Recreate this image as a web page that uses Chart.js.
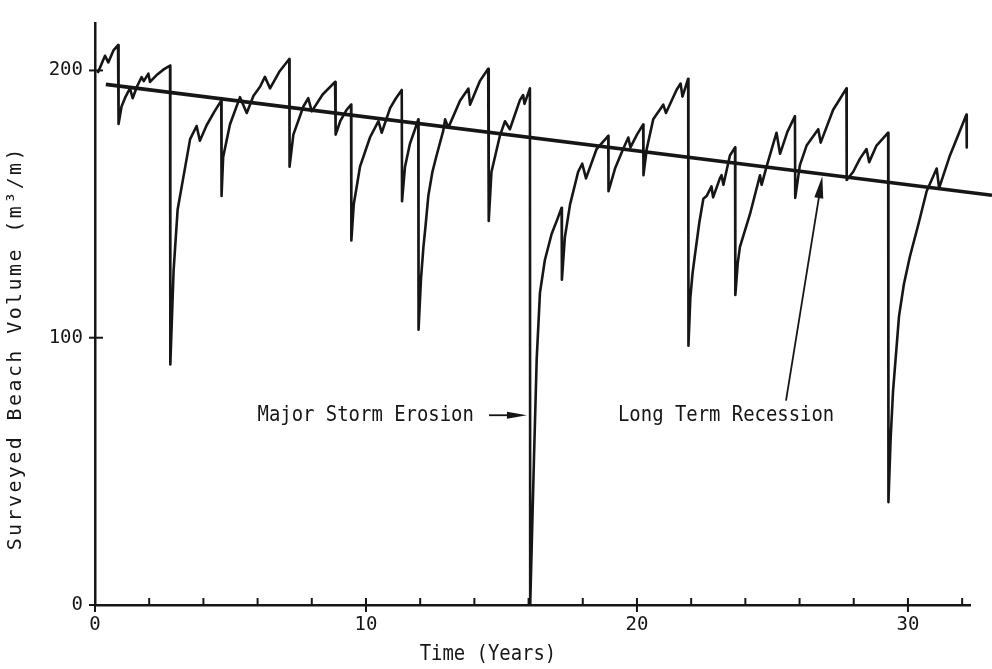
<!DOCTYPE html>
<html>
<head>
<meta charset="utf-8">
<script src="https://cdn.jsdelivr.net/npm/chart.js@4.4.1/dist/chart.umd.min.js"></script>
<style>
  html, body { margin: 0; padding: 0; background: #fff; }
</style>
</head>
<body>
<canvas id="beachChart" width="992" height="669"></canvas>
<script>
// surveyed beach volume (m3/m) against time (years); each storm is a near-vertical drop
const years = [
  0.10, 0.37, 0.49, 0.68, 0.85,
  0.87, 0.98, 1.12, 1.29, 1.39, 1.55, 1.72, 1.80, 1.97, 2.03, 2.30, 2.55, 2.77,
  2.78, 2.90, 3.05, 3.26, 3.51, 3.75, 3.87, 4.12, 4.40, 4.66,
  4.67, 4.73, 4.98, 5.35, 5.60, 5.85, 6.09, 6.27, 6.46, 6.80, 7.17,
  7.18, 7.32, 7.69, 7.87, 8.00, 8.40, 8.86,
  8.88, 9.05, 9.29, 9.45,
  9.46, 9.55, 9.65, 9.78, 10.15, 10.46, 10.58, 10.89, 11.10, 11.32,
  11.33, 11.44, 11.62, 11.81, 11.93,
  11.94, 12.03, 12.12, 12.20, 12.30, 12.45, 12.60, 12.85, 12.92, 13.04, 13.47, 13.78, 13.84, 14.20, 14.51,
  14.53, 14.63, 14.94, 15.13, 15.31, 15.68, 15.80, 15.85, 16.05,
  16.06, 16.20, 16.30, 16.42, 16.60, 16.85, 17.05, 17.22,
  17.23, 17.34, 17.53, 17.83, 17.98, 18.12, 18.51, 18.94,
  18.95, 19.19, 19.49, 19.68, 19.76, 20.00, 20.23,
  20.24, 20.36, 20.60, 20.97, 21.07, 21.46, 21.61, 21.68, 21.89,
  21.90, 21.97, 22.05, 22.14, 22.30, 22.45, 22.57, 22.75, 22.81, 23.06, 23.12, 23.19, 23.43, 23.62,
  23.63, 23.72, 23.80, 24.17, 24.54, 24.60, 24.78, 25.15, 25.28, 25.55, 25.83,
  25.84, 26.01, 26.26, 26.69, 26.78, 27.24, 27.50, 27.73,
  27.74, 27.98, 28.23, 28.47, 28.57, 28.84, 29.27,
  29.28, 29.36, 29.45, 29.67, 29.85, 30.07, 30.40, 30.69, 31.06, 31.15, 31.55, 31.90, 32.16,
  32.17
];
const volume = [
  199.0, 205.5, 203.0, 207.5, 209.5,
  180.0, 186.5, 190.0, 193.3, 189.6, 194.0, 197.5, 196.0, 198.8, 195.7, 198.5, 200.5, 201.8,
  90.0, 125.0, 148.0, 160.0, 174.3, 179.2, 173.7, 179.5, 184.5, 188.7,
  153.0, 167.6, 179.8, 190.0, 184.1, 190.5, 193.9, 197.6, 193.3, 199.5, 204.3,
  164.0, 176.0, 186.5, 189.6, 184.7, 191.0, 195.7,
  176.0, 181.0, 185.3, 187.2,
  136.4, 150.0, 156.0, 164.0, 175.0, 181.0, 176.7, 185.9, 189.5, 192.7,
  151.1, 164.0, 172.5, 178.0, 181.7,
  103.0, 122.0, 134.0, 142.0, 153.0, 162.0, 168.0, 177.4, 181.7, 178.6, 188.7, 193.2, 187.2, 196.0, 200.6,
  143.7, 162.0, 175.5, 181.0, 178.0, 188.9, 190.8, 187.5, 193.3,
  0.0, 55.0, 92.0, 116.8, 129.0, 138.8, 144.0, 148.6,
  121.7, 137.6, 149.8, 162.1, 165.1, 159.6, 170.6, 175.5,
  154.8, 163.3, 170.6, 174.9, 171.2, 176.0, 179.8,
  160.8, 170.6, 181.7, 187.2, 184.1, 192.7, 195.1, 190.2, 196.9,
  97.0, 115.0, 124.0, 131.0, 143.0, 152.0, 153.0, 156.6, 152.5, 159.6, 160.8, 157.2, 168.2, 171.2,
  116.0, 128.0, 134.0, 146.2, 160.8, 157.2, 163.9, 176.7, 168.8, 177.0, 182.9,
  152.3, 164.5, 171.9, 178.0, 173.0, 185.3, 189.5, 193.3,
  159.0, 162.1, 167.0, 170.6, 165.7, 171.9, 176.7,
  38.5, 62.0, 80.0, 108.0, 120.0, 130.3, 143.0, 154.8, 163.3, 156.0, 168.2, 177.0, 183.5,
  171.2
];

// long term recession line
const trendYears = [0.4, 33.1];
const trendVolume = [194.8, 153.3];

// axes
const xLabelEvery = 10;
const xTickStep = 2;
const yTickStep = 100;
const xMax = 32.29;
const yMax = 217.6;

const ink = '#161616';
const mono = '"DejaVu Sans Mono", monospace';

const points = years.map((x, i) => ({ x: x, y: volume[i] }));
const trendPoints = trendYears.map((x, i) => ({ x: x, y: trendVolume[i] }));

function drawArrow(ctx, x0, y0, x1, y1, len, half) {
  const a = Math.atan2(y1 - y0, x1 - x0);
  ctx.beginPath();
  ctx.moveTo(x0, y0);
  ctx.lineTo(x1 - Math.cos(a) * len * 0.6, y1 - Math.sin(a) * len * 0.6);
  ctx.stroke();
  ctx.beginPath();
  ctx.moveTo(x1, y1);
  ctx.lineTo(x1 - Math.cos(a) * len + Math.sin(a) * half, y1 - Math.sin(a) * len - Math.cos(a) * half);
  ctx.lineTo(x1 - Math.cos(a) * len - Math.sin(a) * half, y1 - Math.sin(a) * len + Math.cos(a) * half);
  ctx.closePath();
  ctx.fill();
}

function narrowText(ctx, text, x, y, align) {
  ctx.save();
  ctx.translate(x, y);
  ctx.scale(0.9, 1);
  ctx.textAlign = align || 'left';
  ctx.fillText(text, 0, 0);
  ctx.restore();
}

const paperMarks = {
  id: 'paperMarks',
  afterDraw(chart) {
    const { ctx, chartArea, scales: { x, y } } = chart;
    ctx.save();
    ctx.strokeStyle = ink;
    ctx.fillStyle = ink;
    ctx.lineWidth = 2;

    // tick marks drawn inward, decade ticks cross the axis
    x.ticks.forEach(t => {
      const px = x.getPixelForValue(t.value);
      const major = t.value % xLabelEvery === 0;
      ctx.beginPath();
      ctx.moveTo(px, chartArea.bottom + (major ? 7 : 0));
      ctx.lineTo(px, chartArea.bottom - 7);
      ctx.stroke();
    });
    y.ticks.forEach(t => {
      const py = y.getPixelForValue(t.value);
      ctx.beginPath();
      ctx.moveTo(chartArea.left - 6, py);
      ctx.lineTo(chartArea.left + 8, py);
      ctx.stroke();
    });

    // annotations
    ctx.font = '21px ' + mono;
    ctx.textBaseline = 'alphabetic';
    narrowText(ctx, 'Major Storm Erosion', x.getPixelForValue(6.0), y.getPixelForValue(69));
    narrowText(ctx, 'Long Term Recession', x.getPixelForValue(19.3), y.getPixelForValue(69));

    ctx.lineWidth = 1.8;
    drawArrow(ctx, x.getPixelForValue(14.54), y.getPixelForValue(71),
      x.getPixelForValue(15.94), y.getPixelForValue(71), 20, 3.5);
    drawArrow(ctx, x.getPixelForValue(25.5), y.getPixelForValue(76.5),
      x.getPixelForValue(26.84), y.getPixelForValue(160.4), 22, 4.5);

    // axis titles
    ctx.textBaseline = 'middle';
    narrowText(ctx, 'Time (Years)', x.getPixelForValue(14.5), 655, 'center');

    ctx.save();
    ctx.translate(16, (chartArea.top + chartArea.bottom) / 2 + 34);
    ctx.rotate(-Math.PI / 2);
    ctx.font = '20px ' + mono;
    ctx.letterSpacing = '2.4px';
    ctx.textAlign = 'center';
    ctx.fillText('Surveyed Beach Volume (m³/m)', 0, 0);
    ctx.restore();

    ctx.restore();
  }
};

new Chart(document.getElementById('beachChart'), {
  type: 'scatter',
  data: {
    datasets: [
      {
        label: 'Beach volume',
        data: points,
        showLine: true,
        borderColor: ink,
        borderWidth: 2.6,
        borderJoinStyle: 'round',
        pointRadius: 0,
        tension: 0
      },
      {
        label: 'Long term recession',
        data: trendPoints,
        showLine: true,
        borderColor: ink,
        borderWidth: 3.6,
        pointRadius: 0,
        clip: false
      }
    ]
  },
  options: {
    responsive: false,
    devicePixelRatio: 1,
    animation: false,
    layout: { padding: { top: 12, right: 22, left: 0, bottom: 0 } },
    plugins: {
      legend: { display: false },
      tooltip: { enabled: false }
    },
    scales: {
      x: {
        type: 'linear',
        min: 0,
        max: xMax,
        afterFit: s => { s.height = 64; },
        border: { display: true, color: ink, width: 2.5 },
        grid: { display: false, drawTicks: false },
        ticks: {
          stepSize: xTickStep,
          includeBounds: false,
          autoSkip: false,
          maxRotation: 0,
          padding: 9,
          color: ink,
          font: { family: mono, size: 19 },
          callback: v => (v % xLabelEvery === 0 ? String(v) : '')
        }
      },
      y: {
        type: 'linear',
        min: 0,
        max: yMax,
        afterFit: s => { s.width = 95; },
        border: { display: true, color: ink, width: 2.5 },
        grid: { display: false, drawTicks: false },
        ticks: {
          stepSize: yTickStep,
          includeBounds: false,
          padding: 12,
          color: ink,
          font: { family: mono, size: 19 },
          callback: v => String(v)
        }
      }
    }
  },
  plugins: [paperMarks]
});
</script>
</body>
</html>
